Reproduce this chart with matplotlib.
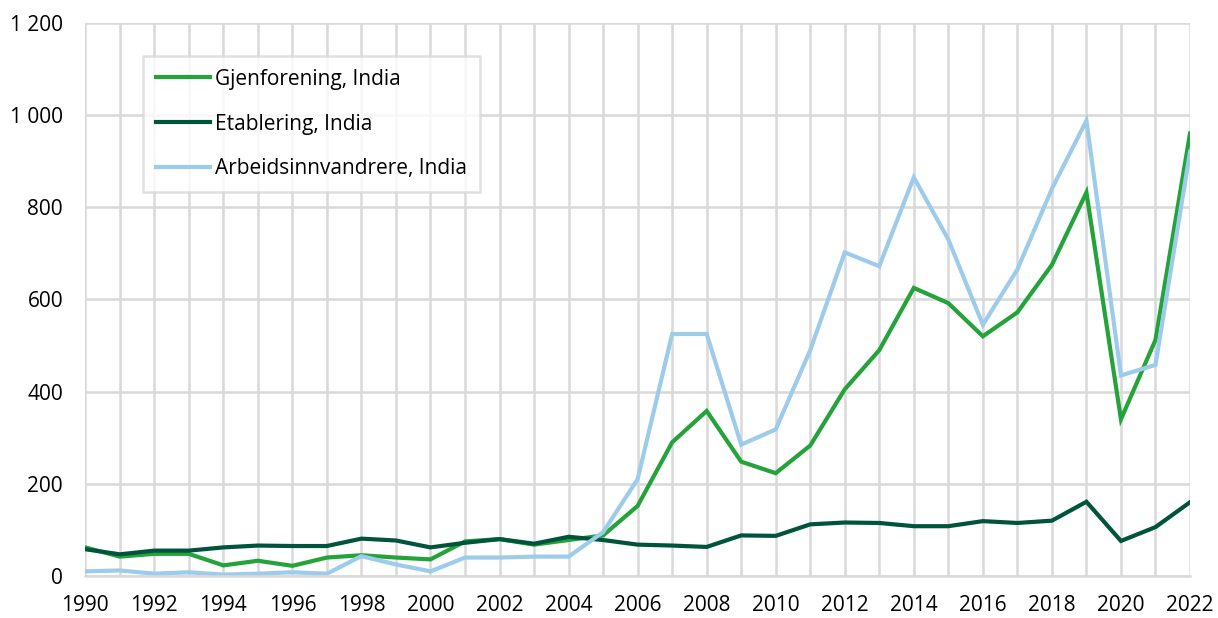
import matplotlib.pyplot as plt
from matplotlib.ticker import FuncFormatter

years = list(range(1990, 2023))

gjenforening = [62, 42, 48, 48, 23, 33, 22, 40, 45, 40, 36, 75, 80, 68, 78, 88,
                152, 290, 358, 248, 223, 283, 405, 490, 625, 592, 520, 572, 675,
                832, 340, 512, 960]
etablering = [58, 47, 55, 55, 62, 66, 65, 65, 81, 77, 62, 72, 80, 70, 85, 78,
              68, 66, 63, 88, 87, 112, 116, 115, 108, 108, 119, 115, 120, 161,
              76, 106, 160]
arbeid = [10, 12, 5, 8, 3, 5, 8, 5, 43, 25, 10, 40, 40, 42, 42, 95, 210, 525,
          525, 285, 318, 490, 702, 672, 865, 730, 545, 665, 840, 988, 435, 458,
          920]

labels = ['Gjenforening, India', 'Etablering, India', 'Arbeidsinnvandrere, India']
colors = ['#24a33a', '#00543c', '#9dcbeb']

plt.rcParams['font.family'] = ['Open Sans', 'DejaVu Sans']

fig = plt.figure(figsize=(12.18, 6.18), dpi=100)
ax = fig.add_axes([0.07, 0.068, 0.907, 0.895])

for vals, lab, col in zip([gjenforening, etablering, arbeid], labels, colors):
    ax.plot(years, vals, color=col, lw=3, label=lab, solid_joinstyle='miter')

ax.set_xlim(1990, 2022)
ax.set_ylim(0, 1200)
ax.set_xticks(range(1990, 2023, 2))
ax.set_xticks(years, minor=True)
ax.set_yticks(range(0, 1201, 200))
ax.yaxis.set_major_formatter(FuncFormatter(lambda v, p: f'{int(v):,}'.replace(',', ' ')))

ax.grid(True, which='both', axis='x', color='#d9d9d9', lw=1.8)
ax.grid(True, which='major', axis='y', color='#d9d9d9', lw=1.8)
ax.set_axisbelow(True)
for s in ['top', 'right', 'left']:
    ax.spines[s].set_visible(False)
ax.spines['bottom'].set_color('#d9d9d9')
ax.spines['bottom'].set_linewidth(1.8)
ax.tick_params(which='both', length=0, labelsize=15, colors='#000000')
ax.tick_params(axis='x', pad=14)
ax.tick_params(axis='y', pad=16)

leg = ax.legend(loc='upper left', bbox_to_anchor=(0.0525, 0.94), fontsize=15,
                frameon=True, fancybox=False, handlelength=2.6, handletextpad=0.25,
                labelspacing=1.15, borderpad=0.6, borderaxespad=0)
leg.get_frame().set_edgecolor('#d9d9d9')
leg.get_frame().set_linewidth(1.8)

fig.savefig('out.png', dpi=100)
